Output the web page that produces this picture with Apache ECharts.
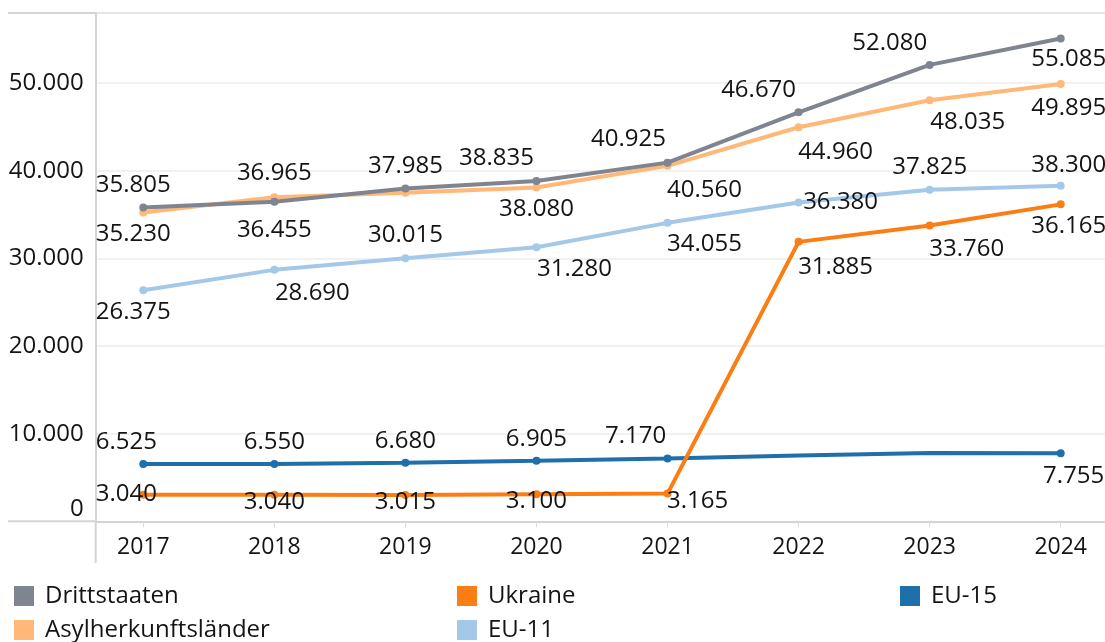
<!DOCTYPE html>
<html>
<head>
<meta charset="utf-8">
<script src="https://cdn.jsdelivr.net/npm/echarts@6/dist/echarts.min.js"></script>
<style>
    html, body {margin: 0; padding: 0; background: #fff;}
    #main {width: 1105px; height: 642px;}
</style>
</head>
<body>
<div id="main"></div>
<script>
var years = ['2017', '2018', '2019', '2020', '2021', '2022', '2023', '2024'];
var drittstaaten = [35805, 36455, 37985, 38835, 40925, 46670, 52080, 55085];
var asyl = [35230, 36965, 37500, 38080, 40560, 44960, 48035, 49895];
var ukraine = [3040, 3040, 3015, 3100, 3165, 31885, 33760, 36165];
var eu15 = [6525, 6550, 6680, 6905, 7170, 7500, 7800, 7755];
var eu11 = [26375, 28690, 30015, 31280, 34055, 36380, 37825, 38300];
var yTicks = [0, 10000, 20000, 30000, 40000, 50000];

// where each value label sits relative to its point [dx, dy]; null = no label
var labelPos = {
    'Drittstaaten': [[-10, -22], [0, 28], [0, -22], [-40, -23], [-39, -23], [-40, -22], [-40, -22], [8, 21]],
    'Asylherkunftsländer': [[-10, 22], [0, -24], null, [0, 22], [37, 24], [37, 25], [38, 22], [8, 24]],
    'Ukraine': [[-17, -1], [0, 7], [0, 7], [0, 7], [30, 8], [37, 25], [37, 24], [8, 22]],
    'EU-15': [[-17, -22], [0, -22], [0, -22], [0, -22], [-32, -22], null, null, [13, 23]],
    'EU-11': [[-10, 22], [38, 23], [0, -23], [38, 22], [37, 21], [42, 0], [0, -23], [8, -20]]
};
// EU-15 has no marker in 2022 and 2023
var noMarker = {'EU-15': [5, 6]};

var font = 'Open Sans';
var textColor = '#141414';

function fmt(v) {
    return String(v).replace(/\B(?=(\d{3})+(?!\d))/g, '.');
}

function makeSeries(name, values, color) {
    var hidden = noMarker[name] || [];
    var data = values.map(function (v, i) {
        var p = labelPos[name][i];
        var item = {value: [i, v]};
        if (hidden.indexOf(i) >= 0) item.symbol = 'none';
        item.label = p ? {show: true, offset: p} : {show: false};
        return item;
    });
    return {
        name: name,
        type: 'line',
        data: data,
        color: color,
        symbol: 'circle',
        symbolSize: 8,
        lineStyle: {width: 4, color: color},
        itemStyle: {color: color},
        label: {
            show: true,
            position: 'inside',
            align: 'center',
            verticalAlign: 'middle',
            fontFamily: font,
            fontSize: 24,
            color: textColor,
            formatter: function (p) { return fmt(p.value[1]); }
        },
        emphasis: {disabled: true}
    };
}

var legendBase = {
    orient: 'vertical',
    top: 584,
    padding: 0,
    icon: 'rect',
    itemWidth: 20,
    itemHeight: 20,
    itemGap: 10,
    textStyle: {fontFamily: font, fontSize: 24, lineHeight: 24, color: textColor, padding: [0, 0, 0, 6]}
};

var myChart = echarts.init(document.getElementById('main'));
var option = {
    animation: false,
    backgroundColor: '#fff',
    grid: {left: 95.7, right: 0, top: 13, bottom: 120.7},
    legend: [
        Object.assign({left: 14, data: ['Drittstaaten', 'Asylherkunftsländer']}, legendBase),
        Object.assign({left: 457, data: ['Ukraine', 'EU-11']}, legendBase),
        Object.assign({left: 900, data: ['EU-15']}, legendBase)
    ],
    xAxis: {
        type: 'value',
        min: -0.3632,
        max: 7.338,
        axisLine: {show: true, onZero: false, lineStyle: {color: '#d4d4d4', width: 2}},
        axisTick: {show: true, customValues: years.map(function (y, i) { return i; }), length: 6, lineStyle: {color: '#dcdcdc'}},
        axisLabel: {
            customValues: years.map(function (y, i) { return i; }),
            formatter: function (v) { return years[Math.round(v)]; },
            fontFamily: font,
            fontSize: 23,
            color: textColor,
            margin: 15
        },
        splitLine: {show: false}
    },
    yAxis: {
        type: 'value',
        min: 0,
        max: 58000,
        interval: 10000,
        axisLine: {show: true, onZero: false, lineStyle: {color: '#d4d4d4', width: 2}},
        axisTick: {show: false},
        axisLabel: {
            customValues: yTicks,
            formatter: function (v) { return fmt(v); },
            fontFamily: font,
            fontSize: 24,
            color: textColor,
            margin: 12,
            verticalAlignMinLabel: 'bottom'
        },
        splitLine: {lineStyle: {color: '#ededed', width: 1.5}}
    },
    graphic: [
        {type: 'line', shape: {x1: 8, y1: 13, x2: 1105, y2: 13}, style: {stroke: '#d4d4d4', lineWidth: 2}},
        {type: 'line', shape: {x1: 8, y1: 521.3, x2: 96, y2: 521.3}, style: {stroke: '#d4d4d4', lineWidth: 2}},
        {type: 'line', shape: {x1: 95.7, y1: 521, x2: 95.7, y2: 563}, style: {stroke: '#d4d4d4', lineWidth: 2}}
    ],
    series: [
        makeSeries('EU-15', eu15, '#1f6fab'),
        makeSeries('EU-11', eu11, '#a4c9e8'),
        makeSeries('Asylherkunftsländer', asyl, '#ffb877'),
        makeSeries('Ukraine', ukraine, '#fb7d14'),
        makeSeries('Drittstaaten', drittstaaten, '#7e8490')
    ]
};
myChart.setOption(option);
</script>
</body>
</html>
